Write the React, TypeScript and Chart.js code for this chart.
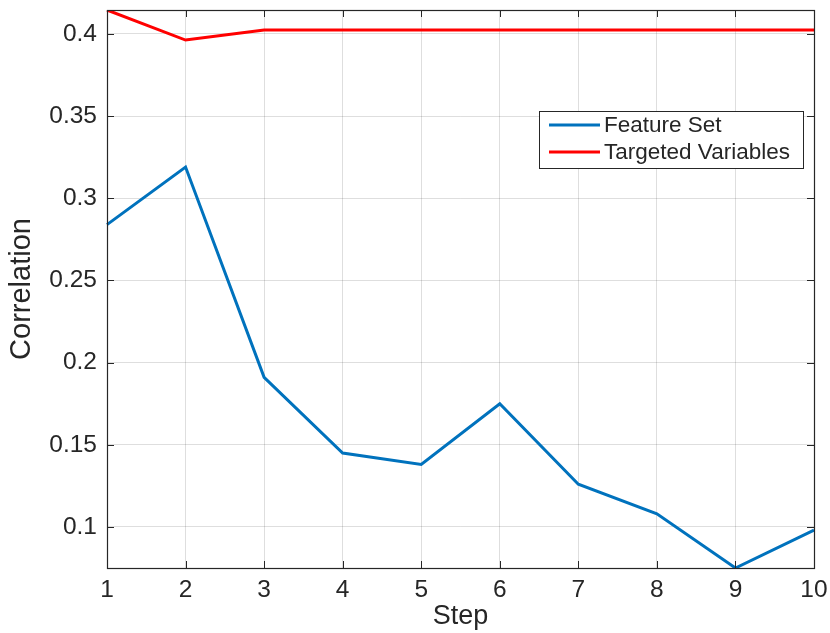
import React, { useEffect, useRef } from 'react';
import { Chart, registerables } from 'chart.js';

Chart.register(...registerables);

const steps = ['1', '2', '3', '4', '5', '6', '7', '8', '9', '10'];
const featureSet = [0.284, 0.319, 0.191, 0.145, 0.138, 0.175, 0.126, 0.108, 0.075, 0.098];
const targetedVariables = [0.4146, 0.3963, 0.4024, 0.4024, 0.4024, 0.4024, 0.4024, 0.4024, 0.4024, 0.4024];
const yTicks = [0.1, 0.15, 0.2, 0.25, 0.3, 0.35, 0.4];
const yTickLabels = ['0.1', '0.15', '0.2', '0.25', '0.3', '0.35', '0.4'];
const seriesNames = ['Feature Set', 'Targeted Variables'];
const yMin = 0.075;
const yMax = 0.4146;

const FONT = "'Liberation Sans', Arial, Helvetica, sans-serif";
const TEXT = '#262626';

const boxPlugin = {
  id: 'matlabBox',
  afterDraw(chart: any) {
    const ctx = chart.ctx;
    const a = chart.chartArea;
    const xs = chart.scales.x;
    const ys = chart.scales.y;
    ctx.save();
    ctx.strokeStyle = TEXT;
    ctx.lineWidth = 1;
    const tl = 7;
    ctx.beginPath();
    xs.ticks.forEach((_t: any, i: number) => {
      const px = Math.round(xs.getPixelForTick(i)) + 0.5;
      ctx.moveTo(px, a.bottom);
      ctx.lineTo(px, a.bottom - tl);
      ctx.moveTo(px, a.top);
      ctx.lineTo(px, a.top + tl);
    });
    ys.ticks.forEach((t: any) => {
      const py = Math.round(ys.getPixelForValue(t.value)) + 0.5;
      ctx.moveTo(a.left, py);
      ctx.lineTo(a.left + tl, py);
      ctx.moveTo(a.right, py);
      ctx.lineTo(a.right - tl, py);
    });
    ctx.stroke();
    ctx.lineWidth = 1.2;
    ctx.strokeRect(Math.round(a.left) + 0.5, Math.round(a.top) + 0.5, Math.round(a.right - a.left), Math.round(a.bottom - a.top));

    // legend
    const lx = 539, ly = 111, lw = 264, lh = 57;
    ctx.fillStyle = '#ffffff';
    ctx.fillRect(lx, ly, lw, lh);
    ctx.strokeStyle = TEXT;
    ctx.lineWidth = 1;
    ctx.strokeRect(lx + 0.5, ly + 0.5, lw, lh);
    ctx.font = `22.5px ${FONT}`;
    ctx.textBaseline = 'middle';
    ctx.textAlign = 'left';
    chart.data.datasets.forEach((ds: any, i: number) => {
      const cy = ly + 14 + i * 27;
      ctx.strokeStyle = ds.borderColor;
      ctx.lineWidth = 3;
      ctx.beginPath();
      ctx.moveTo(lx + 10, cy);
      ctx.lineTo(lx + 61, cy);
      ctx.stroke();
      ctx.fillStyle = TEXT;
      ctx.fillText(ds.label, lx + 65, cy + 1);
    });
    ctx.restore();
  },
};

export default function App() {
  const ref = useRef<HTMLCanvasElement | null>(null);
  useEffect(() => {
    document.body.style.margin = '0';
    const canvas = ref.current;
    if (!canvas) return;
    const chart = new Chart(canvas, {
      type: 'line',
      data: {
        labels: steps,
        datasets: [
          {
            label: seriesNames[0],
            data: featureSet,
            borderColor: '#0072BD',
            backgroundColor: '#0072BD',
            borderWidth: 3,
            pointRadius: 0,
            tension: 0,
          },
          {
            label: seriesNames[1],
            data: targetedVariables,
            borderColor: '#FF0000',
            backgroundColor: '#FF0000',
            borderWidth: 3,
            pointRadius: 0,
            tension: 0,
          },
        ],
      },
      options: {
        animation: false,
        responsive: false,
        maintainAspectRatio: false,
        layout: { padding: { left: 0, right: 16, top: 10, bottom: 0 } },
        plugins: {
          legend: { display: false },
          tooltip: { enabled: false },
        },
        scales: {
          x: {
            type: 'category',
            offset: false,
            grid: { display: true, color: 'rgba(0,0,0,0.13)', drawTicks: false },
            border: { display: false },
            ticks: { color: TEXT, font: { family: FONT, size: 24.5 }, padding: 8, maxRotation: 0, autoSkip: false },
            title: { display: true, text: 'Step', color: TEXT, font: { family: FONT, size: 27 }, padding: { top: 0, bottom: 0 } },
            afterFit(scale: any) {
              scale.height = 65;
              scale.paddingLeft = 0;
              scale.paddingRight = 0;
            },
          },
          y: {
            type: 'linear',
            min: yMin,
            max: yMax,
            grid: { display: true, color: 'rgba(0,0,0,0.13)', drawTicks: false },
            border: { display: false },
            ticks: {
              color: TEXT,
              font: { family: FONT, size: 24.5 },
              padding: 10,
              callback: (_v: any, i: number) => yTickLabels[i],
            },
            afterBuildTicks(scale: any) {
              scale.ticks = yTicks.map((v) => ({ value: v }));
            },
            title: { display: true, text: 'Correlation', color: TEXT, font: { family: FONT, size: 29 }, padding: { top: 5, bottom: 0 } },
            afterFit(scale: any) {
              scale.width = 107;
              scale.paddingTop = 0;
              scale.paddingBottom = 0;
            },
          },
        },
      },
      plugins: [boxPlugin],
    });
    return () => chart.destroy();
  }, []);
  return <canvas ref={ref} width={830} height={633} style={{ display: 'block', width: 830, height: 633 }} />;
}
